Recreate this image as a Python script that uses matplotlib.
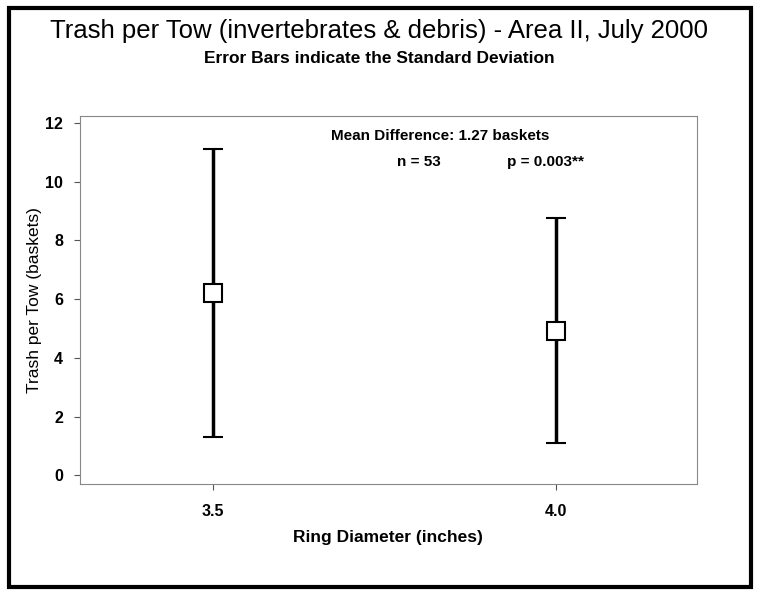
import numpy as np
import matplotlib.pyplot as plt
from matplotlib.patches import Rectangle

plt.rcParams['font.family'] = ['Liberation Sans', 'DejaVu Sans']

# Datos
ring_diameter = [3.5, 4.0]
mean_trash = [6.2, 4.93]
sd_trash = [4.9, 3.82]
tick_labels = ["3.5", "4.0"]

fig = plt.figure(figsize=(7.59, 5.94), dpi=100)
ax = fig.add_axes([0.105, 0.185, 0.813, 0.620])

ax.errorbar(ring_diameter, mean_trash, yerr=sd_trash, fmt="s", color="black",
            ecolor="black", elinewidth=2.5, capsize=7, capthick=2.5,
            markersize=13, markerfacecolor="white", markeredgecolor="black",
            markeredgewidth=1.5, zorder=3)

ax.set_xlim(3.306, 4.205)
ax.set_ylim(-0.3, 12.24)
ax.set_xticks(ring_diameter)
ax.set_xticklabels(tick_labels)
ax.set_yticks(np.arange(0, 13, 2))
ax.tick_params(axis="both", direction="out", length=4, width=0.8, color="#555555",
               labelsize=11.5)
for lbl in ax.get_xticklabels() + ax.get_yticklabels():
    lbl.set_fontweight("bold")
ax.tick_params(axis="x", pad=10)
ax.tick_params(axis="y", pad=8)
for s in ax.spines.values():
    s.set_color("#888888")
    s.set_linewidth(0.8)

ax.set_xlabel("Ring Diameter (inches)", fontsize=12.5, fontweight="bold", labelpad=8)
ax.set_ylabel("Trash per Tow (baskets)", fontsize=12.5, labelpad=2)

# Textos
fig.text(0.5, 0.947, "Trash per Tow (invertebrates & debris) - Area II, July 2000",
         ha="center", va="center", fontsize=18.5)
fig.text(0.5, 0.901, "Error Bars indicate the Standard Deviation",
         ha="center", va="center", fontsize=12.5, fontweight="bold")
ax.text(0.585, 0.945, "Mean Difference: 1.27 baskets", transform=ax.transAxes,
        ha="center", va="center", fontsize=11, fontweight="bold")
ax.text(0.55, 0.875, "n = 53", transform=ax.transAxes,
        ha="center", va="center", fontsize=11, fontweight="bold")
ax.text(0.755, 0.875, "p = 0.003**", transform=ax.transAxes,
        ha="center", va="center", fontsize=11, fontweight="bold")

# Marco exterior
fig.patches.append(Rectangle((0.012, 0.012), 0.977, 0.975, transform=fig.transFigure,
                             fill=False, edgecolor="black", linewidth=3))

fig.savefig("out.png", dpi=100)
